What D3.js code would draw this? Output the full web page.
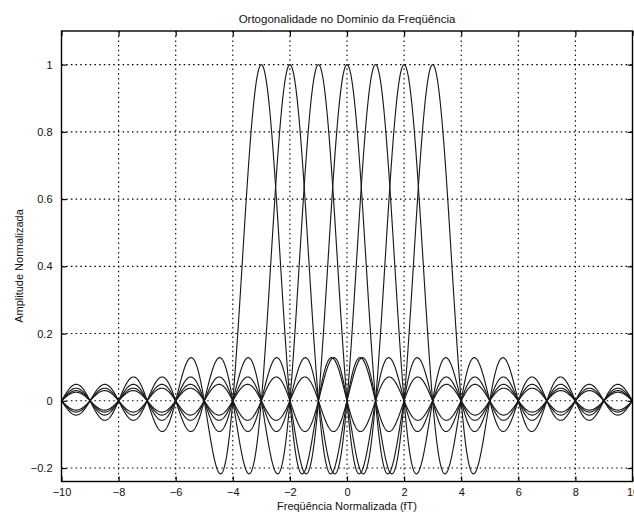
<!DOCTYPE html>
<html>
<head>
<meta charset="utf-8">
<script src="https://cdn.jsdelivr.net/npm/d3@7"></script>
<style>
  html, body { margin: 0; padding: 0; background: #fff; }
  svg { display: block; }
  text { font-family: "Liberation Sans", Arial, Helvetica, sans-serif; fill: #111; }
</style>
</head>
<body>
<svg id="chart" width="634" height="514"></svg>
<script>
// ---- data ----
const subcarrierCenters = [-3, -2, -1, 0, 1, 2, 3];   // normalised frequency (fT) of each subcarrier
const xDomain = [-10, 10];
const yDomain = [-0.24, 1.1];
const xTicks = [-10, -8, -6, -4, -2, 0, 2, 4, 6, 8, 10];
const yTicks = [-0.2, 0, 0.2, 0.4, 0.6, 0.8, 1];
const titleText = "Ortogonalidade no Dominio da Freqüência";
const xLabelText = "Freqüência Normalizada (fT)";
const yLabelText = "Amplitude Normalizada";

// ---- layout ----
const svg = d3.select("#chart");
const L = 61.5, R = 632.5, T = 31, B = 481.5;
const x = d3.scaleLinear().domain(xDomain).range([L, R]);
const y = d3.scaleLinear().domain(yDomain).range([B, T]);

// sinc spectrum of each subcarrier
function sinc(v) { return Math.abs(v) < 1e-9 ? 1 : Math.sin(Math.PI * v) / (Math.PI * v); }
const xs = d3.range(xDomain[0], xDomain[1] + 1e-9, 0.01);

// grid
const grid = svg.append("g").attr("stroke", "#000").attr("stroke-width", 1.1)
  .attr("stroke-dasharray", "1.5,3.2");
grid.selectAll(".gx").data(xTicks.slice(1, -1)).join("line")
  .attr("x1", d => x(d)).attr("x2", d => x(d)).attr("y1", T).attr("y2", B);
grid.selectAll(".gy").data(yTicks).join("line")
  .attr("y1", d => y(d)).attr("y2", d => y(d)).attr("x1", L).attr("x2", R);

// curves
const line = d3.line().x(d => x(d[0])).y(d => y(d[1]));
svg.append("clipPath").attr("id", "clip").append("rect")
  .attr("x", L).attr("y", T).attr("width", R - L).attr("height", B - T);
svg.append("g").attr("clip-path", "url(#clip)")
  .selectAll("path").data(subcarrierCenters).join("path")
  .attr("d", c => line(xs.map(v => [v, sinc(v - c)])))
  .attr("fill", "none").attr("stroke", "#1a1a1a").attr("stroke-width", 1.15);

// axes (inward ticks on all four sides)
const tickLen = 5;
const fmt = d => d3.format("")(+(+d).toFixed(1)).replace("-", "\u2212");
const axB = svg.append("g").attr("transform", `translate(0,${B})`)
  .call(d3.axisBottom(x).tickValues(xTicks).tickSize(-tickLen).tickPadding(7).tickFormat(fmt));
const axT = svg.append("g").attr("transform", `translate(0,${T})`)
  .call(d3.axisTop(x).tickValues(xTicks).tickSize(-tickLen).tickFormat(""));
const axL = svg.append("g").attr("transform", `translate(${L},0)`)
  .call(d3.axisLeft(y).tickValues(yTicks).tickSize(-tickLen).tickPadding(9).tickFormat(fmt));
const axR = svg.append("g").attr("transform", `translate(${R},0)`)
  .call(d3.axisRight(y).tickValues(yTicks).tickSize(-tickLen).tickFormat(""));
[axB, axT, axL, axR].forEach(a => {
  a.select(".domain").remove();
  a.selectAll(".tick line").attr("stroke", "#000").attr("stroke-width", 1.2);
  a.selectAll(".tick text").attr("font-size", "11px")
    .attr("font-family", "'Liberation Sans', Arial, sans-serif").attr("fill", "#111");
});

// frame
svg.append("rect").attr("x", L).attr("y", T).attr("width", R - L).attr("height", B - T)
  .attr("fill", "none").attr("stroke", "#000").attr("stroke-width", 1.4);

// labels
svg.append("text").attr("x", (L + R) / 2).attr("y", 23).attr("text-anchor", "middle")
  .attr("font-size", "11.5px").text(titleText);
svg.append("text").attr("x", (L + R) / 2).attr("y", 510).attr("text-anchor", "middle")
  .attr("font-size", "11px").text(xLabelText);
svg.append("text").attr("transform", `translate(23,266) rotate(-90)`).attr("text-anchor", "middle")
  .attr("font-size", "11px").text(yLabelText);
</script>
</body>
</html>
